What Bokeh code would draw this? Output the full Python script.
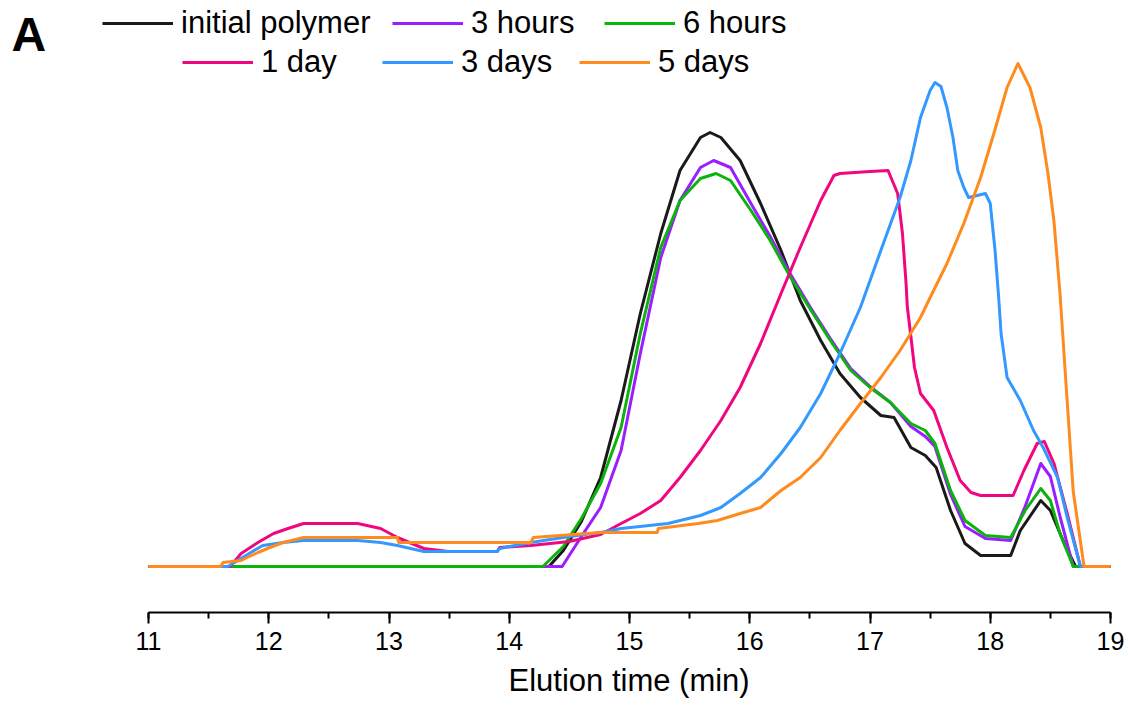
from bokeh.plotting import figure
from bokeh.models import Range1d, SingleIntervalTicker, Legend, LegendItem, Label, Title
from bokeh.embed import file_html
from bokeh.resources import INLINE

FONT = "Liberation Sans"

series_names = ["initial polymer", "3 hours", "6 hours", "1 day", "3 days", "5 days"]
series_colors = ["#1a1a1a", "#9a1eff", "#0bb30b", "#f0077f", "#3399ff", "#ff8a1e"]

x_initial = [11.00, 14.33, 14.45, 14.60, 14.76, 14.93, 15.09, 15.26, 15.42, 15.59, 15.67, 15.76, 15.92, 16.09,
             16.26, 16.42, 16.59, 16.75, 16.92, 17.09, 17.20, 17.34, 17.46, 17.55, 17.67, 17.79, 17.92,
             18.17, 18.25, 18.42, 18.50, 18.63, 18.71, 19.00]
y_initial = [0, 0, 16, 45, 89, 166, 253, 333, 396, 429, 434, 429, 406, 363,
             316, 266, 226, 193, 169, 151, 149, 119, 111, 99, 56, 23, 11,
             11, 36, 66, 56, 19, 0, 0]

x_3h = [11.00, 14.44, 14.60, 14.76, 14.93, 15.09, 15.26, 15.42, 15.59, 15.70, 15.84, 16.01, 16.17, 16.34,
        16.51, 16.67, 16.84, 17.00, 17.17, 17.34, 17.46, 17.54, 17.67, 17.79, 17.96, 18.17, 18.29,
        18.42, 18.50, 18.58, 18.69, 19.00]
y_3h = [0, 0, 30, 59, 116, 213, 309, 366, 399, 406, 399, 363, 330, 292,
        258, 228, 198, 180, 164, 140, 130, 120, 72, 40, 28, 26, 60,
        103, 90, 50, 0, 0]

x_6h = [11.00, 14.28, 14.45, 14.60, 14.76, 14.93, 15.09, 15.26, 15.42, 15.59, 15.72, 15.84, 16.01, 16.17,
        16.34, 16.51, 16.67, 16.84, 17.00, 17.17, 17.34, 17.46, 17.54, 17.67, 17.79, 17.96, 18.17,
        18.29, 18.42, 18.50, 18.58, 18.69, 19.00]
y_6h = [0, 0, 20, 48, 83, 139, 233, 319, 366, 388, 393, 386, 356, 326,
        289, 256, 226, 196, 179, 164, 143, 136, 123, 76, 46, 31, 29,
        56, 78, 66, 33, 0, 0]

x_1d = [11.00, 11.68, 11.77, 11.91, 12.04, 12.16, 12.29, 12.74, 12.93, 13.07, 13.29, 13.49, 13.90, 13.92,
        14.18, 14.50, 14.76, 14.93, 15.09, 15.26, 15.42, 15.59, 15.76, 15.92, 16.09, 16.26, 16.42,
        16.59, 16.70, 16.75, 17.00, 17.15, 17.23, 17.27, 17.30, 17.31, 17.34, 17.37, 17.42, 17.53,
        17.64, 17.75, 17.84, 17.92, 18.19, 18.28, 18.39, 18.45, 18.53, 18.64, 18.75, 19.00]
y_1d = [0, 0, 13, 24, 33, 38, 43, 43, 38, 29, 18, 15, 15, 19,
        21, 25, 32, 43, 53, 66, 89, 116, 146, 179, 223, 273, 319,
        366, 391, 393, 395, 396, 373, 333, 283, 260, 230, 199, 173, 156,
        119, 86, 74, 71, 71, 96, 123, 125, 103, 53, 0, 0]

x_3d = [11.00, 11.66, 11.77, 11.85, 11.95, 12.12, 12.29, 12.74, 12.93, 13.07, 13.29, 13.90, 13.92, 14.18,
        14.50, 14.76, 14.93, 15.32, 15.59, 15.76, 15.92, 16.09, 16.26, 16.42, 16.59, 16.75, 16.92,
        17.09, 17.25, 17.34, 17.42, 17.50, 17.54, 17.59, 17.64, 17.69, 17.73, 17.78, 17.82, 17.96,
        18.00, 18.04, 18.07, 18.09, 18.14, 18.25, 18.36, 18.44, 18.56, 18.64, 18.75, 19.00]
y_3d = [0, 0, 8, 14, 21, 24, 26, 26, 24, 21, 15, 15, 18, 24,
        30, 34, 38, 43, 51, 59, 73, 89, 113, 139, 173, 213, 259,
        316, 369, 406, 449, 476, 484, 480, 459, 429, 396, 379, 369, 373,
        363, 316, 269, 233, 189, 166, 136, 119, 89, 49, 0, 0]

x_5d = [11.00, 11.60, 11.62, 11.77, 11.82, 11.91, 12.01, 12.12, 12.29, 13.07, 13.08, 14.18, 14.20, 14.76,
        15.23, 15.24, 15.57, 15.73, 15.92, 16.09, 16.26, 16.42, 16.59, 16.75, 16.92, 17.09, 17.25,
        17.42, 17.50, 17.64, 17.78, 17.92, 18.03, 18.14, 18.23, 18.33, 18.42, 18.48, 18.53, 18.58,
        18.64, 18.69, 18.78, 19.00]
y_5d = [0, 0, 4, 6, 9, 14, 19, 24, 29, 29, 24, 24, 29, 34,
        34, 38, 43, 46, 53, 59, 76, 89, 109, 136, 163, 189, 216,
        249, 269, 303, 343, 389, 433, 479, 503, 479, 439, 393, 345, 273,
        165, 75, 0, 0]

xs = [x_initial, x_3h, x_6h, x_1d, x_3d, x_5d]
ys = [y_initial, y_3h, y_6h, y_1d, y_3d, y_5d]

x_ticks_major = 1
x_axis_min, x_axis_max = 11, 19

# layout (pixels)
W, H = 1128, 706
axis_left_px, axis_right_px = 148, 1110
px_per_min = (axis_right_px - axis_left_px) / (x_axis_max - x_axis_min)
x_start = x_axis_min - axis_left_px / px_per_min
x_end = x_axis_max + (W - axis_right_px) / px_per_min
baseline_py, axis_py = 566, 612
y_end = baseline_py
y_start = baseline_py - axis_py

p = figure(width=W, height=H, output_backend="svg", toolbar_location=None,
           x_range=Range1d(x_start, x_end), y_range=Range1d(y_start, y_end),
           y_axis_location=None, min_border_left=0, min_border_right=0,
           min_border_top=0, min_border_bottom=H - axis_py)
p.outline_line_color = None
p.xgrid.visible = False
p.ygrid.visible = False
p.background_fill_color = "white"
p.border_fill_color = "white"

renderers = []
for x, y, c in zip(xs, ys, series_colors):
    r = p.line(x, y, line_color=c, line_width=3, line_join="round")
    renderers.append(r)

ax = p.xaxis[0]
ax.ticker = SingleIntervalTicker(interval=x_ticks_major, num_minor_ticks=2)
ax.bounds = (x_axis_min, x_axis_max)
ax.axis_line_width = 2
ax.axis_line_color = "black"
ax.major_tick_line_width = 2
ax.major_tick_line_color = "black"
ax.minor_tick_line_width = 2
ax.minor_tick_line_color = "black"
ax.major_tick_in = 0
ax.major_tick_out = 11
ax.minor_tick_in = 0
ax.minor_tick_out = 6
ax.major_label_text_font = FONT
ax.major_label_text_font_size = "25px"
ax.major_label_text_color = "black"
ax.major_label_standoff = 8

axis_title = Title(text="Elution time (min)", align="left", offset=508, standoff=16,
                   text_font=FONT, text_font_size="31px", text_font_style="normal",
                   text_color="black")
p.add_layout(axis_title, "below")

legend_rows = [(0, 102, 25), (1, 392, 25), (2, 604, 25),
               (3, 182, 64), (4, 382, 64), (5, 579, 64)]
for i, x_px, center_py in legend_rows:
    lg = Legend(items=[LegendItem(label=series_names[i], renderers=[renderers[i]])],
                location=(x_px, axis_py - center_py - 16),
                label_text_font=FONT, label_text_font_size="31px",
                label_text_color="black", label_standoff=8, label_height=32,
                glyph_width=71, glyph_height=32, padding=0, margin=0,
                border_line_color=None, background_fill_alpha=0)
    p.add_layout(lg)

label_x = x_start + 11 / px_per_min
p.add_layout(Label(x=label_x, y=baseline_py - 34, text="A", text_font=FONT,
                   text_font_size="48px", text_font_style="bold", text_color="black",
                   text_baseline="alphabetic"))

open("out.html", "w").write(file_html(p, INLINE))
